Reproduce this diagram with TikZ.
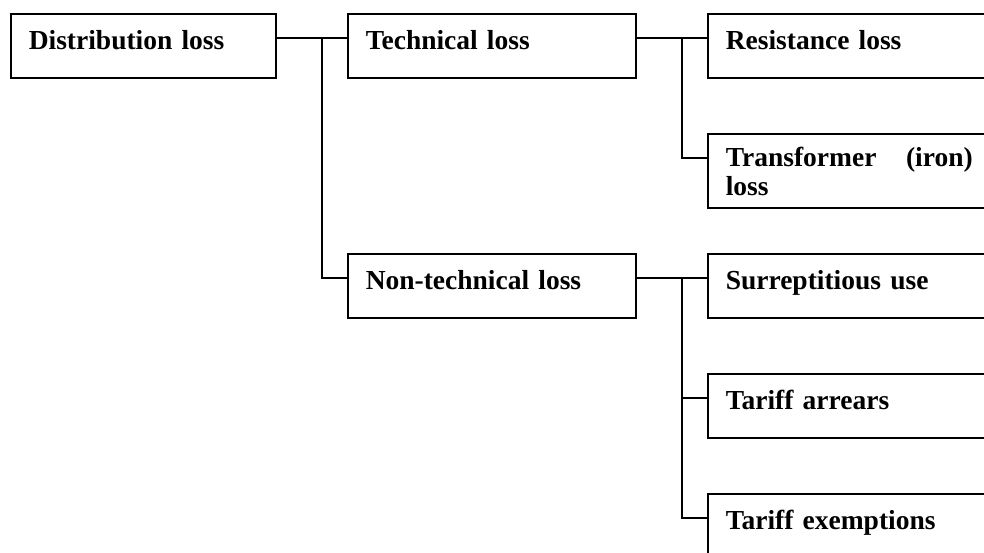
\documentclass[tikz,border=0pt]{standalone}
\usepackage{fontspec}
\setmainfont{Liberation Serif}
\begin{document}
\begin{tikzpicture}
[x=1pt,y=-1pt,
  lineDecorate/.style={-,line width=1.5pt},%
  nodeDecorate/.style 2 args={shape=rectangle,draw,line width=1.5pt,anchor=north west,
    inner xsep=18pt,inner ysep=0pt,align=left,
    font=\fontsize{27.5}{29}\selectfont\bfseries,
    execute at begin node={\rule{0pt}{#1}},
    execute at end node={\rule[-#2]{0pt}{#2}}}]
\clip (0,0) rectangle (984,552);
%% nodes or boxes
\node (dist) at (10,13) [nodeDecorate={36pt}{28pt},text width=229pt] {Distribution loss};
\node (tech) at (347,13) [nodeDecorate={36pt}{28pt},text width=252pt] {Technical loss};
\node (nontech) at (347,253) [nodeDecorate={36pt}{28pt},text width=252pt] {Non-technical loss};
\node (tra) at (707,133) [nodeDecorate={33pt}{12pt},text width=247pt,align=justify] {Transformer (iron) loss};
\foreach \nodename/\y/\txt in {
  res/13/Resistance loss, sur/253/Surreptitious use,
  arr/373/Tariff arrears, exe/493/Tariff exemptions}
{
  \node (\nodename) at (707,\y) [nodeDecorate={36pt}{28pt},text width=247pt] {\txt};
}
%% edges or lines
\draw[lineDecorate] ([yshift=-25pt]dist.north east) -- ([yshift=-25pt]tech.north west);
\draw[lineDecorate] ([xshift=-25pt,yshift=-25pt]tech.north west) |- ([yshift=-25pt]nontech.north west);
\draw[lineDecorate] ([yshift=-25pt]tech.north east) -- ([yshift=-25pt]res.north west);
\draw[lineDecorate] ([xshift=-25pt,yshift=-25pt]res.north west) |- ([yshift=-25pt]tra.north west);
\draw[lineDecorate] ([yshift=-25pt]nontech.north east) -- ([yshift=-25pt]sur.north west);
\foreach \endnode in {arr,exe}
{
  \draw[lineDecorate] ([xshift=-25pt,yshift=-25pt]sur.north west) |- ([yshift=-25pt]\endnode.north west);
}
\end{tikzpicture}
\end{document}
